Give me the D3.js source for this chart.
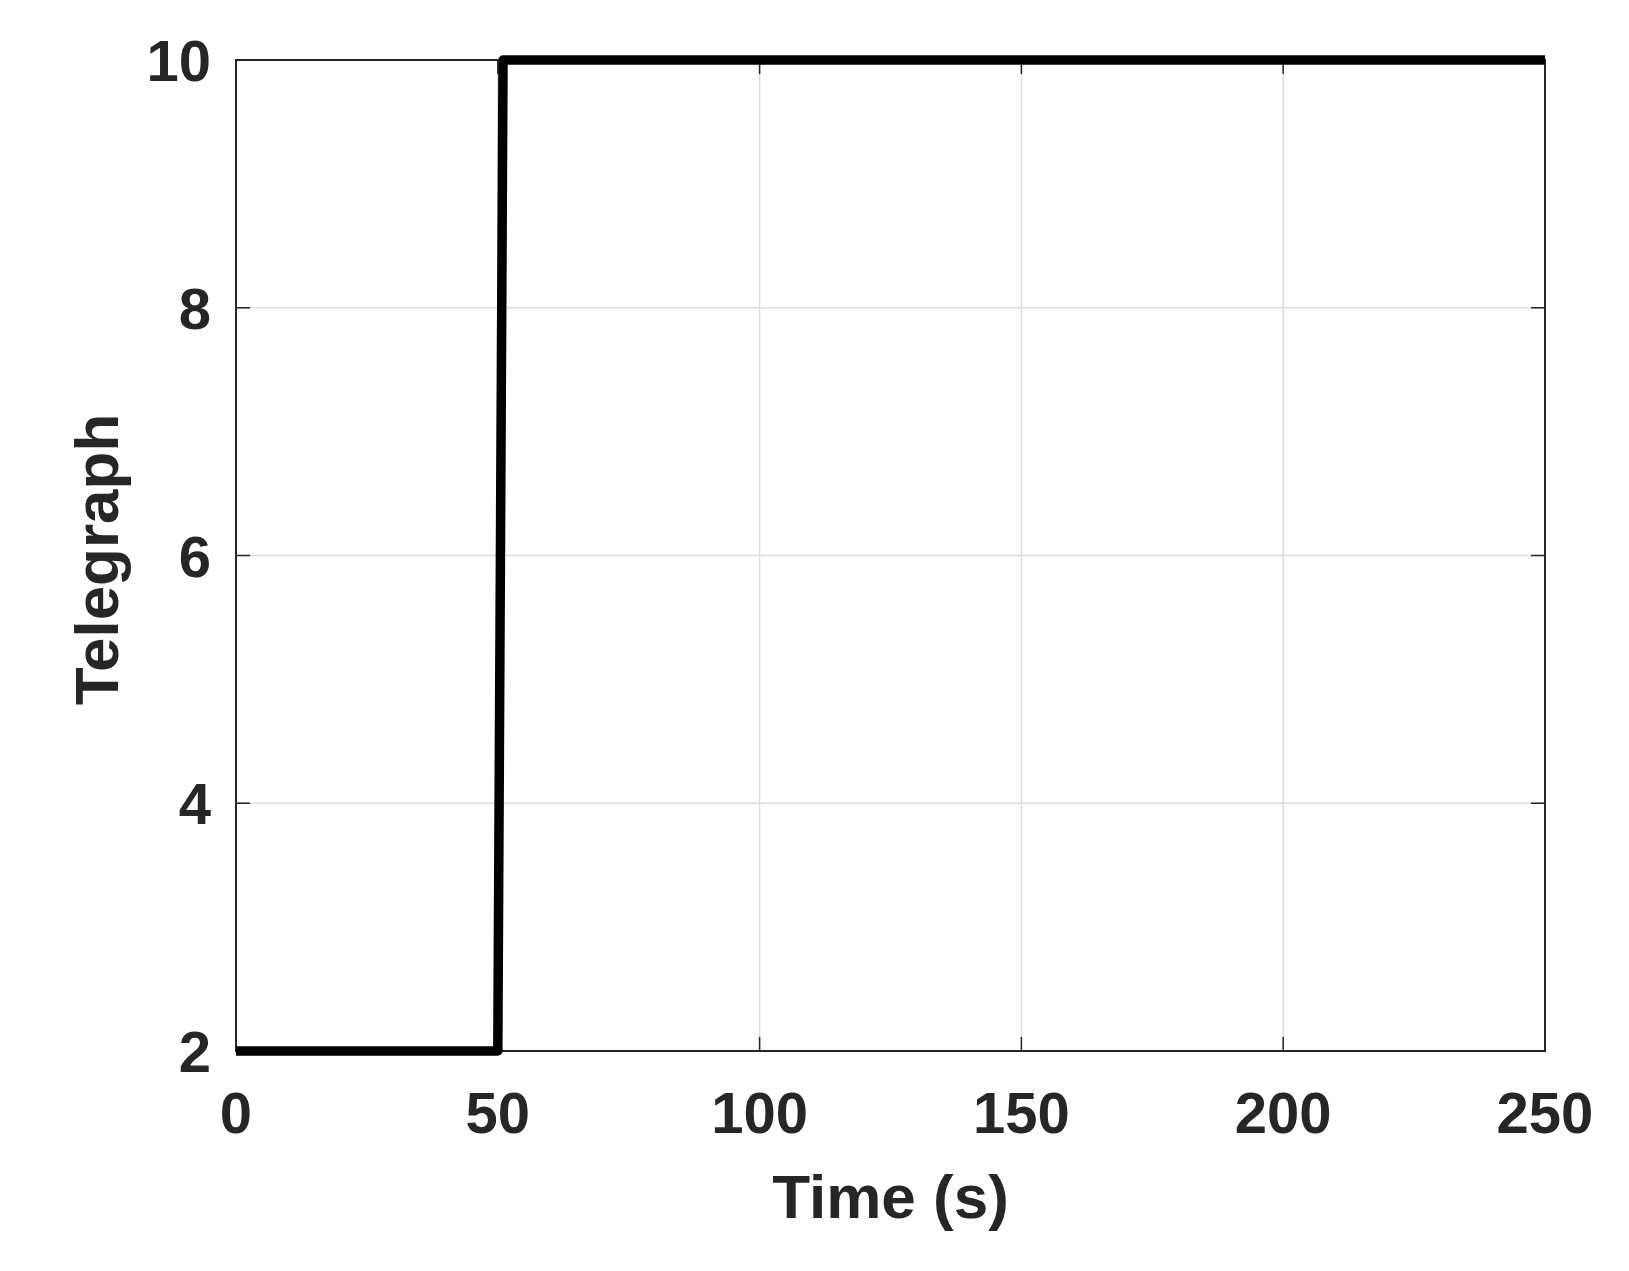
<!DOCTYPE html>
<html><head><meta charset="utf-8">
<script src="https://cdn.jsdelivr.net/npm/d3@7"></script>
<style>body{margin:0;background:#fff;} text{font-family:"Liberation Sans",Arial,sans-serif;font-weight:bold;fill:#262626;}</style>
</head><body>
<svg id="c" width="1629" height="1271"></svg>
<script>
const timeValues = [0, 50, 51, 250];
const telegraphValues = [2, 2, 10, 10];
const xTicks = [0, 50, 100, 150, 200, 250];
const yTicks = [2, 4, 6, 8, 10];
const xLabel = "Time (s)";
const yLabel = "Telegraph";

const L = 236, R = 1545, T = 60, B = 1051;
const svg = d3.select("#c");
const x = d3.scaleLinear().domain([0, 250]).range([L, R]);
const y = d3.scaleLinear().domain([2, 10]).range([B, T]);
const ink = "#262626";

// grid
const g = svg.append("g");
g.selectAll("line.gx").data(xTicks).join("line")
  .attr("x1", d => x(d)).attr("x2", d => x(d)).attr("y1", T).attr("y2", B)
  .attr("stroke", "#dcdcdc").attr("stroke-width", 1.5);
g.selectAll("line.gy").data(yTicks).join("line")
  .attr("x1", L).attr("x2", R).attr("y1", d => y(d)).attr("y2", d => y(d))
  .attr("stroke", "#dcdcdc").attr("stroke-width", 1.5);

// ticks (inward, all four sides)
const tl = 14;
const tk = svg.append("g").attr("stroke", ink).attr("stroke-width", 1.5);
xTicks.forEach(d => {
  tk.append("line").attr("x1", x(d)).attr("x2", x(d)).attr("y1", B).attr("y2", B - tl);
  tk.append("line").attr("x1", x(d)).attr("x2", x(d)).attr("y1", T).attr("y2", T + tl);
});
yTicks.forEach(d => {
  tk.append("line").attr("x1", L).attr("x2", L + tl).attr("y1", y(d)).attr("y2", y(d));
  tk.append("line").attr("x1", R).attr("x2", R - tl).attr("y1", y(d)).attr("y2", y(d));
});

// box
svg.append("rect").attr("x", L).attr("y", T).attr("width", R - L).attr("height", B - T)
  .attr("fill", "none").attr("stroke", ink).attr("stroke-width", 2);

// data line
const data = timeValues.map((t, i) => [t, telegraphValues[i]]);
svg.append("path").datum(data)
  .attr("d", d3.line().x(d => x(d[0])).y(d => y(d[1])))
  .attr("fill", "none").attr("stroke", "#000").attr("stroke-width", 9.5)
  .attr("stroke-linejoin", "round").attr("stroke-linecap", "butt");

// tick labels
svg.selectAll("text.xt").data(xTicks).join("text")
  .attr("x", d => x(d)).attr("y", 1133).attr("text-anchor", "middle")
  .attr("font-size", 58).text(d => d);
svg.selectAll("text.yt").data(yTicks).join("text")
  .attr("x", 211).attr("y", d => y(d) + 21).attr("text-anchor", "end")
  .attr("font-size", 58).text(d => d);

// axis labels
svg.append("text").attr("x", (L + R) / 2).attr("y", 1218).attr("text-anchor", "middle")
  .attr("font-size", 62).text(xLabel);
svg.append("text").attr("transform", `translate(118,${(T + B) / 2 + 4}) rotate(-90)`)
  .attr("text-anchor", "middle").attr("font-size", 62).text(yLabel);
</script>
</body></html>
